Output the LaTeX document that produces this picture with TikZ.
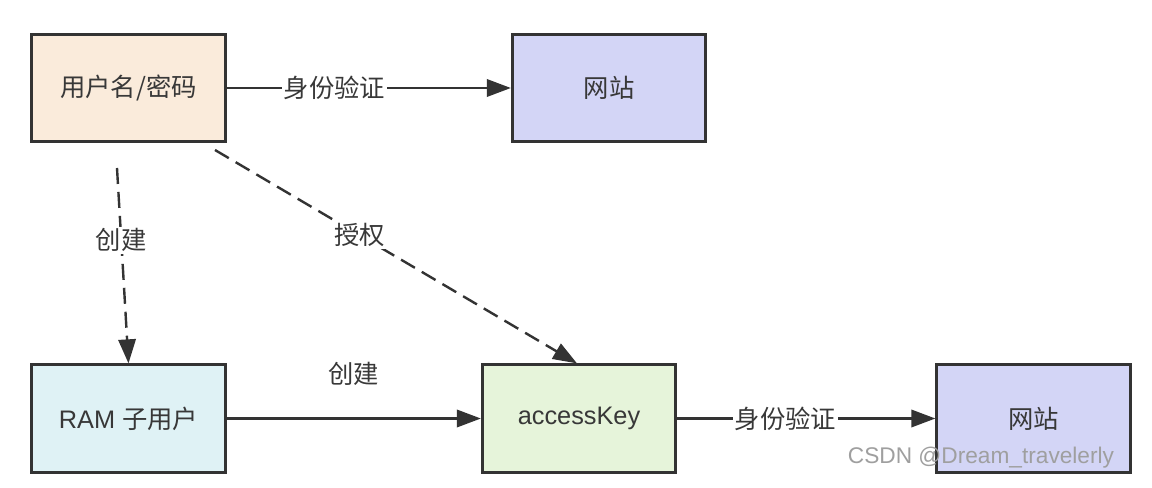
\documentclass[tikz,border=0pt]{standalone}
\usepackage{fontspec}
\setmainfont{Liberation Sans}
\newfontfamily\cjk{Noto Sans CJK SC}
\usetikzlibrary{arrows.meta}
\definecolor{lineC}{HTML}{333333}
\definecolor{txtC}{HTML}{383838}
\definecolor{peach}{HTML}{FAEBDB}
\definecolor{lav}{HTML}{D3D5F6}
\definecolor{cyanl}{HTML}{DFF2F5}
\definecolor{greenl}{HTML}{E6F4DA}
\begin{document}
\begin{tikzpicture}[x=0.75pt,y=-0.75pt,
  box/.style={draw=lineC,line width=2.2pt,minimum width=145pt,minimum height=80.5pt,inner sep=0pt,
    text=txtC,font=\fontsize{19}{21}\selectfont},
  conn/.style={draw=lineC,line width=1.8pt,-{Triangle[length=18pt,width=13pt]}},
  dashconn/.style={conn,dash pattern=on 12pt off 6pt},
  lbl/.style={fill=white,inner sep=1.5pt,text=txtC,font=\fontsize{19}{21}\selectfont\cjk}]
\useasboundingbox (0,0) rectangle (1152,488);
\fill[white] (0,0) rectangle (1152,488);
\node[box,fill=peach] (up) at (128.5,88) {\cjk 用户名/密码};
\node[box,fill=lav] (web1) at (609,88) {\cjk 网站};
\node[box,fill=cyanl] (ram) at (128.5,418.5) {RAM \cjk 子用户};
\node[box,fill=greenl] (ak) at (579,418.5) {accessKey};
\node[box,fill=lav] (web2) at (1033.5,418.5) {\cjk 网站};
\coordinate (c1) at (117,168);
\coordinate (c2) at (215,150);
\draw[conn] (up.east) -- node[lbl,pos=0.38] {身份验证} (web1.west);
\draw[dashconn] (c1) -- node[lbl,pos=0.37] {创建} ([xshift=0pt]ram.north);
\draw[dashconn] (c2) -- node[lbl,pos=0.40] {授权} ([xshift=-1.5pt]ak.north);
\draw[conn] (ram.east) -- node[lbl,pos=0.5,above=22pt] {创建} (ak.west);
\draw[conn] (ak.east) -- node[lbl,pos=0.42] {身份验证} (web2.west);
\node[text=gray!75,font=\fontsize{17}{19}\selectfont] (wm) at (981,458) {CSDN @Dream\_travelerly};
\end{tikzpicture}
\end{document}
